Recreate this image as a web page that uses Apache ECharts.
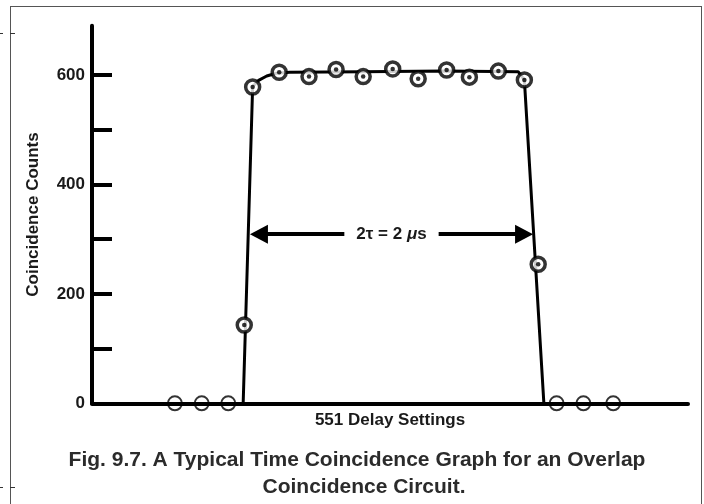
<!DOCTYPE html>
<html><head><meta charset="utf-8">
<script src="https://cdn.jsdelivr.net/npm/echarts@6/dist/echarts.min.js"></script>
<style>html,body{margin:0;padding:0;background:#fff}#c{width:704px;height:504px}</style>
</head><body><div id="c"></div>
<script>
// ---- data ----
const delays = [3.06, 4.05, 5.03, 5.62, 5.93, 6.91, 8.01, 9.01, 10.01, 11.1, 12.04, 13.09, 13.93, 15.0, 15.96, 16.47, 17.15, 18.14, 19.24];
const counts = [0, 0, 0, 143, 578, 605, 597, 610, 597, 611, 593, 609, 596, 607, 591, 254, 0, 0, 0];
const fitDelays = [5.58, 5.93, 6.15, 6.45, 6.8, 7.3, 10.0, 13.0, 15.73, 15.96, 16.68];
const fitCounts = [0, 579, 590, 598, 603, 605, 606, 607, 606, 591, 0];
const yTicks = [0, 100, 200, 300, 400, 500, 600];
const yLabels = [0, 200, 400, 600];
const arrowY = 309;
const arrowFrom = 5.83;
const arrowTo = 16.28;
const xName = '551 Delay Settings';
const yName = 'Coincidence Counts';
const caption1 = 'Fig. 9.7. A Typical Time Coincidence Graph for an Overlap';
const caption2 = 'Coincidence Circuit.';

const font = '"Liberation Sans", Arial, Helvetica, sans-serif';
const headLen = 18;
const chart = echarts.init(document.getElementById('c'), null, {renderer: 'canvas'});
const pts = delays.map((d, i) => [d, counts[i]]);
const ringPts = pts.filter(p => p[1] > 0);
const zeroPts = pts.filter(p => p[1] === 0);
const fitData = fitDelays.map((d, i) => [d, fitCounts[i]]);

function arrowData(a, b) {
  return [[{coord: [a, arrowY]}, {coord: [b, arrowY]}]];
}

const option = {
  animation: false,
  backgroundColor: '#fff',
  grid: {left: 92, right: 16, top: 25.7, bottom: 100.7, containLabel: false, outerBoundsMode: 'none'},
  xAxis: {
    type: 'value', min: 0, max: 22,
    axisLine: {show: true, onZero: false, lineStyle: {color: '#000', width: 4}},
    axisTick: {show: false}, axisLabel: {show: false}, splitLine: {show: false},
    name: xName, nameLocation: 'middle', nameGap: 9,
    nameTextStyle: {fontFamily: font, fontWeight: 'bold', fontSize: 17, color: '#1a1a1a', verticalAlign: 'top'}
  },
  yAxis: {
    type: 'value', min: 0, max: 690, interval: 100,
    axisLine: {show: true, lineStyle: {color: '#000', width: 4}},
    axisTick: {show: true, inside: true, length: 20, lineStyle: {width: 4, color: '#000'}, customValues: yTicks},
    axisLabel: {show: true, customValues: yLabels, fontFamily: font, fontWeight: 'bold', fontSize: 17, color: '#1a1a1a', margin: 7},
    splitLine: {show: false},
    name: yName, nameLocation: 'middle', nameGap: 50,
    nameTextStyle: {fontFamily: font, fontWeight: 'bold', fontSize: 17, color: '#1a1a1a'}
  },
  series: [
    {
      type: 'line', data: fitData, symbol: 'none', silent: true,
      lineStyle: {color: '#000', width: 3}, z: 2,
      markLine: {
        silent: true, animation: false,
        symbol: ['triangle', 'triangle'], symbolSize: [19, headLen],
        lineStyle: {color: '#000', width: 4, type: 'solid'},
        label: {show: false},
        data: arrowData(arrowFrom, arrowTo)
      }
    },
    {
      type: 'scatter', data: zeroPts, symbol: 'circle', symbolSize: 14, silent: true, z: 3,
      itemStyle: {color: 'rgba(0,0,0,0)', borderColor: '#000', borderWidth: 2}
    },
    {
      type: 'scatter', data: ringPts, symbol: 'circle', symbolSize: 14, silent: true, z: 4,
      itemStyle: {color: '#fff', borderColor: '#000', borderWidth: 3.5}
    },
    {
      type: 'scatter', data: ringPts, symbol: 'circle', symbolSize: 4.5, silent: true, z: 5,
      itemStyle: {color: '#000'},
      markPoint: {
        silent: true, symbol: 'rect', symbolSize: 1, itemStyle: {color: 'rgba(0,0,0,0)'}, z: 10,
        label: {
          show: true, position: 'inside', backgroundColor: '#fff', padding: [3, 12],
          formatter: '{a|2τ = 2 }{b|μ}{a|s}',
          rich: {
            a: {fontFamily: font, fontWeight: 'bold', fontSize: 17, color: '#1a1a1a'},
            b: {fontFamily: font, fontWeight: 'bold', fontStyle: 'italic', fontSize: 17, color: '#1a1a1a'}
          }
        },
        data: [{coord: [(arrowFrom + arrowTo) / 2, arrowY]}]
      }
    }
  ],
  graphic: [
    {type: 'line', silent: true, shape: {x1: 10, y1: 6.5, x2: 702, y2: 6.5}, style: {stroke: '#555', lineWidth: 1}},
    {type: 'line', silent: true, shape: {x1: 10.5, y1: 6, x2: 10.5, y2: 504}, style: {stroke: '#555', lineWidth: 1}},
    {type: 'line', silent: true, shape: {x1: 701.5, y1: 6, x2: 701.5, y2: 504}, style: {stroke: '#555', lineWidth: 1}},
    {type: 'line', silent: true, shape: {x1: 0, y1: 33.5, x2: 3, y2: 33.5}, style: {stroke: '#333', lineWidth: 1}},
    {type: 'line', silent: true, shape: {x1: 10, y1: 33.5, x2: 15, y2: 33.5}, style: {stroke: '#333', lineWidth: 1}},
    {type: 'line', silent: true, shape: {x1: 0, y1: 487.5, x2: 3, y2: 487.5}, style: {stroke: '#333', lineWidth: 1}},
    {type: 'line', silent: true, shape: {x1: 10, y1: 487.5, x2: 15, y2: 487.5}, style: {stroke: '#333', lineWidth: 1}},
    {type: 'text', silent: true, x: 357, y: 460, style: {text: caption1, textAlign: 'center', textVerticalAlign: 'middle', font: 'bold 21px ' + font, fill: '#2b2b2b'}},
    {type: 'text', silent: true, x: 364, y: 487, style: {text: caption2, textAlign: 'center', textVerticalAlign: 'middle', font: 'bold 21px ' + font, fill: '#2b2b2b'}}
  ]
};
chart.setOption(option);

// pull the arrow-line ends in by half a head so the triangle tips land on arrowFrom/arrowTo
const pA = chart.convertToPixel({gridIndex: 0}, [arrowFrom, arrowY]);
const pB = chart.convertToPixel({gridIndex: 0}, [arrowTo, arrowY]);
const a2 = chart.convertFromPixel({gridIndex: 0}, [pA[0] + headLen / 2, pA[1]])[0];
const b2 = chart.convertFromPixel({gridIndex: 0}, [pB[0] - headLen / 2, pB[1]])[0];
chart.setOption({series: [{markLine: {data: arrowData(a2, b2)}}]});
</script>
</body></html>
